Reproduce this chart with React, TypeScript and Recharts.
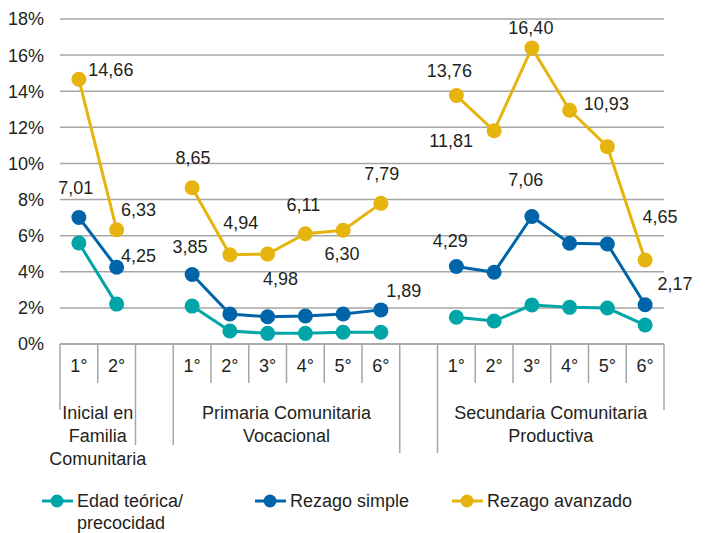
import { CartesianGrid, LabelList, Line, LineChart, XAxis, YAxis } from 'recharts';

const grades = ['1°', '2°', '', '1°', '2°', '3°', '4°', '5°', '6°', '', '1°', '2°', '3°', '4°', '5°', '6°'];
const edadTeorica = [5.59, 2.21, null, 2.1, 0.72, 0.59, 0.59, 0.65, 0.65, null, 1.48, 1.27, 2.16, 2.03, 1.99, 1.05];
const rezagoSimple = [7.01, 4.25, null, 3.85, 1.66, 1.51, 1.55, 1.66, 1.89, null, 4.29, 3.97, 7.06, 5.58, 5.54, 2.17];
const rezagoAvanzado = [14.66, 6.33, null, 8.65, 4.94, 4.98, 6.11, 6.3, 7.79, null, 13.76, 11.81, 16.4, 12.95, 10.93, 4.65];
const groups = [
  { lines: ['Inicial en', 'Familia', 'Comunitaria'], start: 0, count: 2 },
  { lines: ['Primaria Comunitaria', 'Vocacional'], start: 3, count: 6 },
  { lines: ['Secundaria Comunitaria', 'Productiva'], start: 10, count: 6 },
];
const yTicks = [0, 2, 4, 6, 8, 10, 12, 14, 16, 18];

const data = grades.map((grade, i) => ({
  id: i,
  grade,
  edad: edadTeorica[i],
  simple: rezagoSimple[i],
  avanzado: rezagoAvanzado[i],
}));

// label placement (dx, dy from the dot), only labelled points listed
const avanzadoLabelPos: Record<number, [number, number]> = {
  0: [32, -9], 1: [22, -20], 3: [1, -30], 4: [11, -32], 5: [13, 25], 6: [-2, -29], 7: [-1, 24],
  8: [1, -29], 10: [-7, -25], 11: [-43, 10], 12: [-1, -20], 14: [-1, -43], 15: [15, -43],
};
const simpleLabelPos: Record<number, [number, number]> = {
  0: [-3, -29], 1: [22, -11], 3: [-2, -27], 8: [23, -19], 10: [-6, -26], 12: [-6, -37], 15: [30, -21],
};

const TEAL = '#00A5A8';
const BLUE = '#0065A8';
const GOLD = '#E6B40F';
const GRID = '#A6A6A6';
const TEXT = '#231F20';
const FONT = "'Liberation Sans', Arial, sans-serif";

const W = 708;
const H = 533;
const PLOT_L = 60;
const PLOT_R = 664;
const BAND = (PLOT_R - PLOT_L) / grades.length;
const AXIS_Y = 344;

// how far the separator lines go below the axis
const boundaryEnd: Record<number, number> = { 0: 410, 2: 445, 3: 445, 9: 453, 10: 453, 16: 410 };
const endOf = (b: number) => boundaryEnd[b] ?? 383;

const fmt = (v: number) => v.toFixed(2).replace('.', ',');

function CategoryTick(props: any) {
  const { x, y, payload } = props;
  const i = payload.index;
  const half = BAND / 2;
  const group = groups.find((g) => g.start === i);
  return (
    <g>
      {i === 0 && <line x1={x - half} x2={x - half} y1={y} y2={endOf(0)} stroke={GRID} strokeWidth={1.5} />}
      <line x1={x + half} x2={x + half} y1={y} y2={endOf(i + 1)} stroke={GRID} strokeWidth={1.5} />
      <text x={x} y={y + 28} textAnchor="middle" fontSize={18} fill={TEXT}>
        {grades[i]}
      </text>
      {group &&
        group.lines.map((ln, k) => (
          <text
            key={k}
            x={x - half + (group.count * BAND) / 2}
            y={413 + k * 23}
            textAnchor="middle"
            dominantBaseline="central"
            fontSize={18}
            fill={TEXT}
          >
            {ln}
          </text>
        ))}
    </g>
  );
}

const makeLabel = (pos: Record<number, [number, number]>) => (props: any) => {
  const { x, y, value } = props;
  const index = props.index ?? Math.round((x - PLOT_L) / BAND - 0.5);
  const off = pos[index];
  if (!off || value == null) return null;
  return (
    <text
      x={x + off[0]}
      y={y + off[1]}
      textAnchor="middle"
      dominantBaseline="central"
      fontSize={18}
      fill={TEXT}
    >
      {fmt(value)}
    </text>
  );
};

const legendItems = [
  { lines: ['Edad teórica/', 'precocidad'], color: TEAL, left: 42 },
  { lines: ['Rezago simple'], color: BLUE, left: 255 },
  { lines: ['Rezago avanzado'], color: GOLD, left: 452 },
];

function LegendBlock() {
  return (
    <>
      {legendItems.map((it) => (
        <div
          key={it.color}
          style={{ position: 'absolute', left: it.left, top: 490, display: 'flex', alignItems: 'flex-start' }}
        >
          <svg width={31} height={22} style={{ flex: 'none' }}>
            <line x1={0} x2={31} y1={11} y2={11} stroke={it.color} strokeWidth={3} />
            <circle cx={15} cy={11} r={6.5} fill={it.color} />
          </svg>
          <div style={{ marginLeft: 4, fontSize: 18, lineHeight: '22px', color: TEXT, whiteSpace: 'nowrap' }}>
            {it.lines.map((ln) => (
              <div key={ln}>{ln}</div>
            ))}
          </div>
        </div>
      ))}
    </>
  );
}

export default function App() {
  return (
    <div style={{ position: 'absolute', left: 0, top: 0, width: W, height: H, background: '#fff', fontFamily: FONT }}>
      <LineChart
        width={W}
        height={H}
        data={data}
        margin={{ top: 19, right: W - PLOT_R, bottom: H - AXIS_Y - 130, left: 0 }}
      >
        <CartesianGrid vertical={false} stroke={GRID} strokeWidth={1.5} />
        <XAxis
          dataKey="id"
          type="category"
          scale="band"
          interval={0}
          height={130}
          tickSize={0}
          tickMargin={0}
          tickLine={false}
          axisLine={{ stroke: GRID, strokeWidth: 1.5 }}
          tick={<CategoryTick />}
        />
        <YAxis
          width={PLOT_L}
          domain={[0, 18]}
          ticks={yTicks}
          tickFormatter={(v) => `${v}%`}
          axisLine={false}
          tickLine={false}
          tickSize={6}
          tickMargin={10}
          tick={{ fontSize: 18, fill: TEXT }}
        />
        <Line
          dataKey="edad"
          stroke={TEAL}
          strokeWidth={3}
          dot={{ r: 7.5, fill: TEAL, stroke: 'none' }}
          activeDot={false}
          isAnimationActive={false}
        />
        <Line
          dataKey="simple"
          stroke={BLUE}
          strokeWidth={3}
          dot={{ r: 7.5, fill: BLUE, stroke: 'none' }}
          activeDot={false}
          isAnimationActive={false}
        >
          <LabelList dataKey="simple" content={makeLabel(simpleLabelPos)} />
        </Line>
        <Line
          dataKey="avanzado"
          stroke={GOLD}
          strokeWidth={3}
          dot={{ r: 7.5, fill: GOLD, stroke: 'none' }}
          activeDot={false}
          isAnimationActive={false}
        >
          <LabelList dataKey="avanzado" content={makeLabel(avanzadoLabelPos)} />
        </Line>
      </LineChart>
      <LegendBlock />
    </div>
  );
}
